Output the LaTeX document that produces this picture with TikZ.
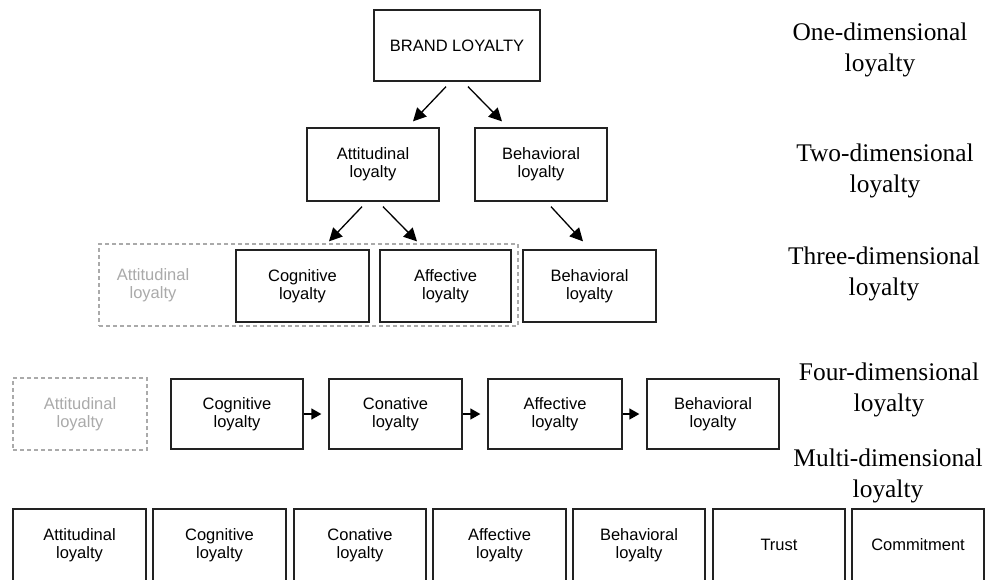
\documentclass[tikz,border=0pt]{standalone}
\usepackage{fontspec}
\setmainfont{Liberation Sans}
\newfontfamily\serifrm{Liberation Serif}
\usetikzlibrary{arrows.meta,calc}
\definecolor{boxline}{HTML}{222222}
\definecolor{ghost}{HTML}{AAAAAA}
\tikzset{
  box/.style={draw=boxline, line width=1.3pt, align=center, inner sep=0pt,
    font=\fontsize{16.5}{18}\selectfont, text=black},
  ghostbox/.style={draw=ghost, line width=1.2pt, dash pattern=on 4pt off 3pt,
    align=center, inner sep=0pt, font=\fontsize{16.5}{18}\selectfont, text=ghost},
  ghosttext/.style={align=center, inner sep=0pt, font=\fontsize{16.5}{18}\selectfont, text=ghost},
  levellabel/.style={align=center, inner sep=0pt, font=\serifrm\fontsize{25.4}{30.5}\selectfont, text=black},
  arr/.style={draw=black, line width=1.3pt, -{Triangle[length=13pt,width=13pt]}}
}
\begin{document}
\begin{tikzpicture}[x=1pt,y=-1pt]
\useasboundingbox (0,0) rectangle (987,579);
\clip (0,0) rectangle (987,579);
\fill[white] (0,0) rectangle (987,579);

% level labels
\node[levellabel] (l1) at (880,50) {One-dimensional\\loyalty};
\node[levellabel] (l2) at (885,171) {Two-dimensional\\loyalty};
\node[levellabel] (l3) at (884,274) {Three-dimensional\\loyalty};
\node[levellabel] (l4) at (889,390) {Four-dimensional\\loyalty};
\node[levellabel] (l5) at (888,476) {Multi-dimensional\\loyalty};

% row 1
\node[box, minimum width=166pt, minimum height=71pt] (brand) at (457,45.5) {BRAND LOYALTY};

% row 2
\node[box, minimum width=132pt, minimum height=73pt] (att2) at (373,164.5) {Attitudinal\\loyalty};
\node[box, minimum width=132pt, minimum height=73pt] (beh2) at (541,164.5) {Behavioral\\loyalty};

% row 3
\node[ghostbox, minimum width=419pt, minimum height=82pt] (grp3) at (308.5,285) {};
\node[ghosttext] (att3) at (153,285) {Attitudinal\\loyalty};
\node[box, minimum width=133pt, minimum height=72pt] (cog3) at (302.5,286) {Cognitive\\loyalty};
\node[box, minimum width=131pt, minimum height=72pt] (aff3) at (445.5,286) {Affective\\loyalty};
\node[box, minimum width=133pt, minimum height=72pt] (beh3) at (589.5,286) {Behavioral\\loyalty};

% row 4
\node[ghostbox, minimum width=134pt, minimum height=72pt] (att4) at (80,414) {Attitudinal\\loyalty};
\node[box, minimum width=132pt, minimum height=70pt] (cog4) at (237,414) {Cognitive\\loyalty};
\node[box, minimum width=133pt, minimum height=70pt] (con4) at (395.5,414) {Conative\\loyalty};
\node[box, minimum width=134pt, minimum height=70pt] (aff4) at (555,414) {Affective\\loyalty};
\node[box, minimum width=132pt, minimum height=70pt] (beh4) at (713,414) {Behavioral\\loyalty};

% row 5
\node[box, minimum width=133pt, minimum height=72pt] (m1) at (79.5,545) {Attitudinal\\loyalty};
\node[box, minimum width=133pt, minimum height=72pt] (m2) at (219.5,545) {Cognitive\\loyalty};
\node[box, minimum width=132pt, minimum height=72pt] (m3) at (360,545) {Conative\\loyalty};
\node[box, minimum width=133pt, minimum height=72pt] (m4) at (499.5,545) {Affective\\loyalty};
\node[box, minimum width=132pt, minimum height=72pt] (m5) at (639,545) {Behavioral\\loyalty};
\node[box, minimum width=132pt, minimum height=72pt] (m6) at (779,545) {Trust};
\node[box, minimum width=132pt, minimum height=72pt] (m7) at (918,545) {Commitment};

% connector end points
\coordinate (b1s) at ($(brand.south)+(-11,5)$);
\coordinate (b2s) at ($(brand.south)+(11,5)$);
\coordinate (a2t) at ($(att2.north)+(40,-6)$);
\coordinate (b2t) at ($(beh2.north)+(-39,-6)$);
\coordinate (a2s1) at ($(att2.south)+(-11,5)$);
\coordinate (a2s2) at ($(att2.south)+(10,5)$);
\coordinate (c3t) at ($(cog3.north)+(26.5,-8)$);
\coordinate (f3t) at ($(aff3.north)+(-28.5,-8)$);
\coordinate (b2s1) at ($(beh2.south)+(10,5)$);
\coordinate (h3t) at ($(beh3.north)+(-6.5,-8)$);

\draw[arr] (b1s) -- (a2t);
\draw[arr] (b2s) -- (b2t);
\draw[arr] (a2s1) -- (c3t);
\draw[arr] (a2s2) -- (f3t);
\draw[arr] (b2s1) -- (h3t);

\draw[arr, -{Triangle[length=10pt,width=11pt]}, shorten >=7pt] (cog4.east) -- (con4.west);
\draw[arr, -{Triangle[length=10pt,width=11pt]}, shorten >=7pt] (con4.east) -- (aff4.west);
\draw[arr, -{Triangle[length=10pt,width=11pt]}, shorten >=7pt] (aff4.east) -- (beh4.west);
\end{tikzpicture}
\end{document}
